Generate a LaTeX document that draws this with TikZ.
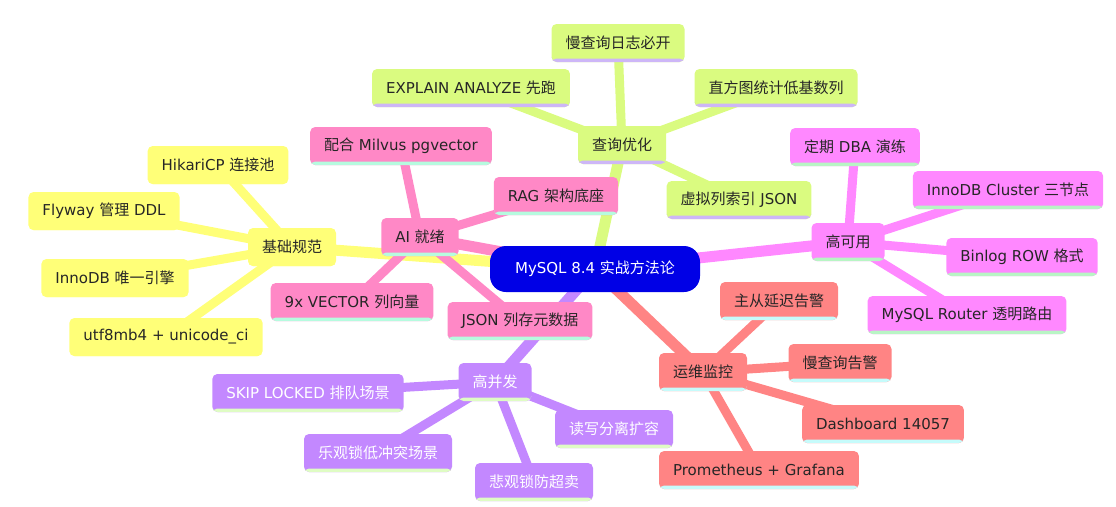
\documentclass[tikz,border=0pt]{standalone}
\usepackage{fontspec}
\setmainfont{DejaVu Sans}
\newfontfamily\cjkfont{Noto Sans CJK SC}
% switch to the CJK family for Han characters
\XeTeXinterchartokenstate=1
\newXeTeXintercharclass\cjkclass
\count255="4E00
\loop\ifnum\count255<"A000
    \XeTeXcharclass\count255=\cjkclass
    \advance\count255 by 1
\repeat
\XeTeXinterchartoks 0 \cjkclass = {\begingroup\cjkfont}
\XeTeXinterchartoks 4095 \cjkclass = {\begingroup\cjkfont}
\XeTeXinterchartoks \cjkclass 0 = {\endgroup}
\XeTeXinterchartoks \cjkclass 4095 = {\endgroup}
\usepackage{tikz}
\usetikzlibrary{backgrounds}

\definecolor{rootblue}{HTML}{0000E6}
\definecolor{qgreen}{HTML}{DAFB80}
\definecolor{qgreenline}{HTML}{CDB6F7}
\definecolor{hamag}{HTML}{FF88FF}
\definecolor{hamagline}{HTML}{B8F5C4}
\definecolor{opsred}{HTML}{FF8484}
\definecolor{opsredline}{HTML}{C6FBFB}
\definecolor{concpurple}{HTML}{C388FF}
\definecolor{concline}{HTML}{DFFCC4}
\definecolor{aipink}{HTML}{FF88C6}
\definecolor{ailine}{HTML}{B6FBDF}
\definecolor{baseyellow}{HTML}{FFFF78}
\definecolor{baseline}{HTML}{AAAAFF}

\begin{document}
\begin{tikzpicture}[
    x=1pt, y=-1pt,
    mmnode/.style 2 args={rounded corners=5pt, minimum height=38pt, inner xsep=14pt,
        fill=#1, text=black!85, font=\fontsize{15pt}{18pt}\selectfont,
        path picture={\fill[#2] ([yshift=3.5pt]path picture bounding box.south west)
            rectangle (path picture bounding box.south east);}},
    rootnode/.style={rounded corners=16pt, minimum height=46pt, minimum width=210pt,
        fill=rootblue, text=white, font=\fontsize{15pt}{18pt}\selectfont},
    qnode/.style={mmnode={qgreen}{qgreenline}},
    hanode/.style={mmnode={hamag}{hamagline}},
    opsnode/.style={mmnode={opsred}{opsredline}},
    concnode/.style={mmnode={concpurple}{concline}, text=white},
    ainode/.style={mmnode={aipink}{ailine}},
    basenode/.style={mmnode={baseyellow}{baseline}},
    trunk/.style={line width=11pt},
    twig/.style={line width=9pt}
]
    \useasboundingbox (0,0) rectangle (1116,506);
    % Root
    \node[rootnode] (root) at (595,269) {MySQL 8.4 实战方法论};
    % Query tuning
    \node[qnode] (qry) at (622,145) {查询优化};
    \node[qnode] (qry1) at (618,43) {慢查询日志必开};
    \node[qnode] (qry2) at (471,88) {EXPLAIN ANALYZE 先跑};
    \node[qnode] (qry3) at (776,88) {直方图统计低基数列};
    \node[qnode] (qry4) at (739,200) {虚拟列索引 JSON};
    % High availability
    \node[hanode] (ha) at (848,242) {高可用};
    \node[hanode] (ha1) at (855,147) {定期 DBA 演练};
    \node[hanode] (ha2) at (1008,190) {InnoDB Cluster 三节点};
    \node[hanode] (ha3) at (1022,257) {Binlog ROW 格式};
    \node[hanode] (ha4) at (967,315) {MySQL Router 透明路由};
    % Operations
    \node[opsnode] (ops) at (703,372) {运维监控};
    \node[opsnode] (ops1) at (779,301) {主从延迟告警};
    \node[opsnode] (ops2) at (840,363) {慢查询告警};
    \node[opsnode] (ops3) at (883,424) {Dashboard 14057};
    \node[opsnode] (ops4) at (759,470) {Prometheus + Grafana};
    % Concurrency
    \node[concnode] (conc) at (495,382) {高并发};
    \node[concnode] (conc1) at (308,393) {SKIP LOCKED 排队场景};
    \node[concnode] (conc2) at (378,453) {乐观锁低冲突场景};
    \node[concnode] (conc3) at (534,482) {悲观锁防超卖};
    \node[concnode] (conc4) at (614,429) {读写分离扩容};
    % AI
    \node[ainode] (ai) at (420,237) {AI 就绪};
    \node[ainode] (ai1) at (401,146) {配合 Milvus pgvector};
    \node[ainode] (ai2) at (556,196) {RAG 架构底座};
    \node[ainode] (ai3) at (352,302) {9x VECTOR 列向量};
    \node[ainode] (ai4) at (520,321) {JSON 列存元数据};
    % Basics
    \node[basenode] (base) at (292,247) {基础规范};
    \node[basenode] (base1) at (218,165) {HikariCP 连接池};
    \node[basenode] (base2) at (104,211) {Flyway 管理 DDL};
    \node[basenode] (base3) at (115,278) {InnoDB 唯一引擎};
    \node[basenode] (base4) at (166,337) {utf8mb4 + unicode\_ci};
    % Branches
    \begin{scope}[on background layer]
        \draw[trunk, qgreen] (root.center) -- (qry.center);
        \draw[trunk, hamag] (root.center) -- (ha.center);
        \draw[trunk, opsred] (root.center) -- (ops.center);
        \draw[trunk, concpurple] (root.center) -- (conc.center);
        \draw[trunk, aipink] (root.center) -- (ai.center);
        \draw[trunk, baseyellow] (root.center) -- (base.center);
        \foreach \i in {1,...,4} {
            \draw[twig, qgreen] (qry.center) -- (qry\i.center);
            \draw[twig, hamag] (ha.center) -- (ha\i.center);
            \draw[twig, opsred] (ops.center) -- (ops\i.center);
            \draw[twig, concpurple] (conc.center) -- (conc\i.center);
            \draw[twig, aipink] (ai.center) -- (ai\i.center);
            \draw[twig, baseyellow] (base.center) -- (base\i.center);
        }
    \end{scope}
\end{tikzpicture}
\end{document}
